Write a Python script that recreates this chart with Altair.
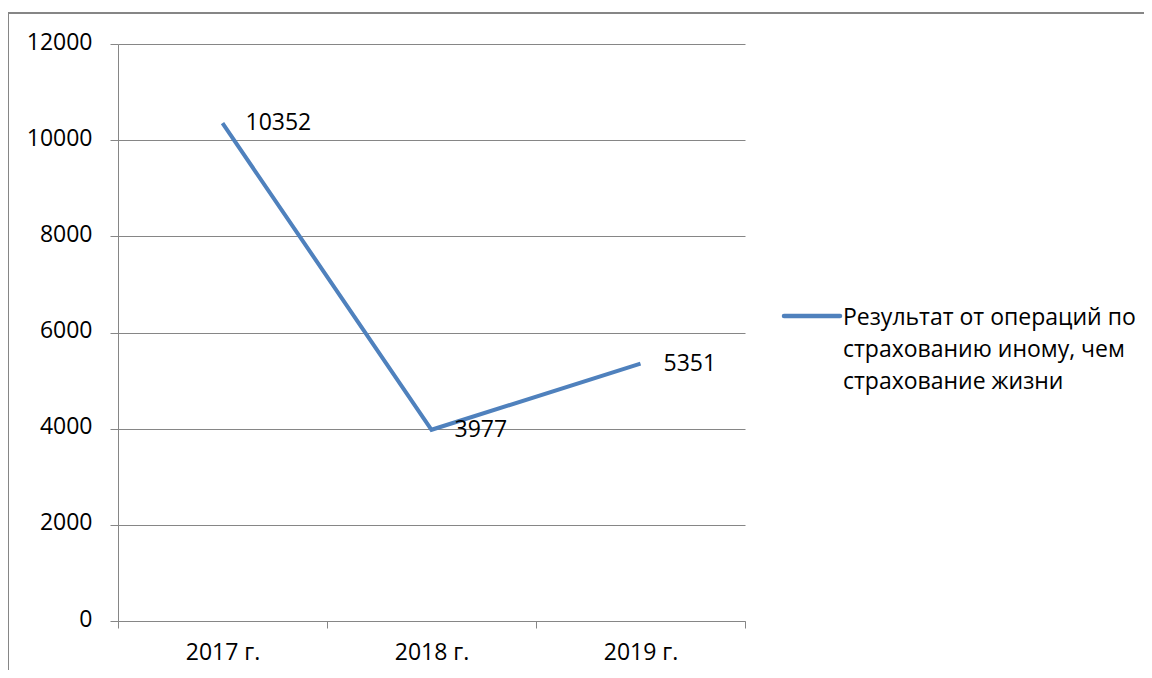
import altair as alt
import pandas as pd

years = ["2017 г.", "2018 г.", "2019 г."]
values = [10352, 3977, 5351]
series_name = "Результат от операций по\nстрахованию иному, чем\nстрахование жизни"
y_ticks = [0, 2000, 4000, 6000, 8000, 10000, 12000]

df = pd.DataFrame({"year": years, "value": values})

FONT = "Open Sans"
FS = 23
GRAY = "#868686"
BLUE = "#4F81BD"

x_enc = alt.X(
    "year:N",
    sort=years,
    bandPosition=0.5,
    scale=alt.Scale(type="band", paddingInner=0, paddingOuter=0),
    axis=alt.Axis(
        title=None, labelAngle=0, tickBand="extent", tickSize=7,
        labelPadding=13, domainColor=GRAY, tickColor=GRAY, grid=False,
        labelFont=FONT, labelFontSize=FS, labelColor="black",
    ),
)
y_enc = alt.Y(
    "value:Q",
    scale=alt.Scale(domain=[0, 12000], nice=False, zero=True),
    axis=alt.Axis(
        title=None, values=y_ticks, format="d", tickSize=8, labelPadding=18,
        domainColor=GRAY, tickColor=GRAY, gridColor=GRAY, grid=True,
        labelFont=FONT, labelFontSize=FS, labelColor="black", labelBaseline="middle",
        labelOffset=-2,
    ),
)

base = alt.Chart(df)

line = base.mark_line(color=BLUE, strokeWidth=4).encode(x=x_enc, y=y_enc)
labels = base.mark_text(
    align="left", baseline="middle", dx=23, dy=0, font=FONT, fontSize=FS, color="black"
).encode(x=x_enc, y=y_enc, text="value:Q")

leg_df = pd.DataFrame({"name": [series_name]})
leg_line = alt.Chart(leg_df).mark_rule(color=BLUE, strokeWidth=4.5, strokeCap="round").encode(
    x=alt.value(666), x2=alt.value(722), y=alt.value(272)
)
leg_text = alt.Chart(leg_df).mark_text(
    align="left", baseline="middle", font=FONT, fontSize=FS, color="black",
    lineBreak="\n", lineHeight=32,
).encode(x=alt.value(725), y=alt.value(274), text="name:N")

border_top = alt.Chart(leg_df).mark_rule(stroke=GRAY, strokeWidth=2).encode(
    x=alt.value(-110), x2=alt.value(1100), y=alt.value(-31)
)
border_left = alt.Chart(leg_df).mark_rule(stroke=GRAY, strokeWidth=2).encode(
    x=alt.value(-110), y=alt.value(-31), y2=alt.value(700)
)

chart = alt.layer(border_top, border_left, line, labels, leg_line, leg_text).properties(
    width=627, height=577,
    autosize=alt.AutoSizeParams(type="none"),
    padding={"left": 110, "top": 36, "right": 399, "bottom": 49},
    background="white",
).configure_view(stroke=None)

chart.save("out.html", embed_options={"renderer": "svg", "actions": False})
